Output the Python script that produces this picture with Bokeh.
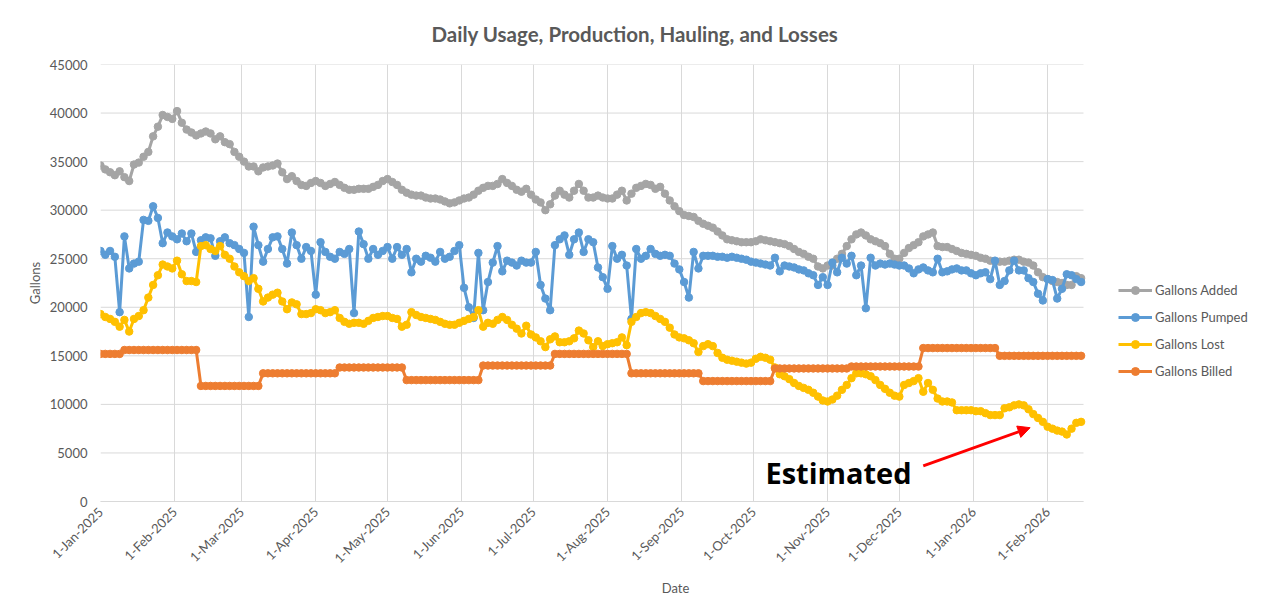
import math
import numpy as np
import pandas as pd
from bokeh.plotting import figure
from bokeh.models import (Range1d, FixedTicker, CustomJSTickFormatter, Legend,
                          LegendItem, Label, Arrow, NormalHead)
from bokeh.embed import file_html
from bokeh.resources import INLINE

# ---------------- data (one reading every 2 days) ----------------
START = "2025-01-01"
END = "2026-02-16"
STEP_DAYS = 2

added = [
    34600, 34200, 33900, 33600, 34000, 33400, 33000, 34700, 34900, 35500,
    36000, 37600, 38600, 39800, 39600, 39400, 40200, 39000, 38300, 38000,
    37700, 37900, 38100, 37900, 37300, 37600, 37000, 36800, 36000, 35500,
    35000, 34500, 34500, 34000, 34400, 34500, 34600, 34800, 33900, 33200,
    33500, 33000, 32600, 32500, 32800, 33000, 32800, 32500, 32700, 32900,
    32600, 32300, 32100, 32100, 32200, 32200, 32200, 32400, 32600, 33000,
    33200, 32900, 32600, 32100, 31800, 31600, 31500, 31500, 31300, 31200,
    31200, 31100, 30900, 30700, 30800, 31000, 31200, 31300, 31600, 32000,
    32300, 32500, 32500, 32700, 33200, 32800, 32500, 32100, 31900, 32200,
    31600, 31100, 30800, 30000, 30600, 31500, 32000, 31600, 31300, 32000,
    32700, 32000, 31300, 31300, 31500, 31300, 31200, 31200, 31600, 32000,
    31000, 31700, 32300, 32500, 32700, 32600, 32200, 32400, 31700, 31000,
    30400, 29900, 29500, 29400, 29300, 28900, 28600, 28400, 28200, 27800,
    27400, 27000, 26900, 26800, 26700, 26700, 26700, 26800, 27000, 26900,
    26800, 26700, 26600, 26500, 26300, 26000, 25700, 25500, 25200, 25000,
    24200, 24000, 24300, 24300, 25000, 25500, 26300, 27000, 27500, 27700,
    27400, 27000, 26800, 26600, 26300, 25500, 25000, 25000, 25600, 26100,
    26400, 26700, 27300, 27500, 27700, 26300, 26200, 26200, 26000, 25800,
    25600, 25500, 25400, 25300, 25100, 25000, 24800, 24700, 24700, 24700,
    24800, 24900, 24900, 24700, 24600, 24300, 23600, 23100, 22900, 22700,
    22600, 22500, 22300, 22300, 23200, 23000,
]

pumped = [
    25800, 25400, 25800, 25200, 19500, 27300, 24000, 24500, 24700, 29000,
    28900, 30400, 29200, 26600, 27700, 27300, 27000, 27600, 26800, 27600,
    25700, 26900, 27200, 27100, 25300, 26800, 27200, 26600, 26400, 26000,
    25600, 19000, 28300, 26400, 24700, 26000, 27200, 27300, 26000, 24500,
    27700, 26400, 25000, 26200, 25800, 21300, 26700, 25700, 25200, 25000,
    25700, 25500, 26000, 19400, 27800, 26500, 25000, 26000, 25400, 25800,
    26200, 25000, 26200, 25400, 26000, 23600, 25000, 24700, 25300, 25100,
    24700, 25700, 25000, 25200, 25800, 26400, 22000, 20000, 18900, 25600,
    19700, 22600, 24600, 26300, 23700, 24800, 24600, 24300, 24800, 24600,
    24600, 25700, 22300, 20900, 19700, 26400, 27000, 27400, 25400, 27000,
    27700, 25700, 27000, 26700, 24100, 23100, 21900, 26300, 25000, 25400,
    24300, 18800, 26000, 25000, 25300, 26000, 25500, 25300, 25400, 25300,
    24500, 23900, 22600, 21000, 25700, 24000, 25300, 25300, 25300, 25200,
    25200, 25100, 25200, 25100, 25000, 24900, 24700, 24600, 24500, 24400,
    24300, 25100, 23700, 24300, 24200, 24100, 23900, 23800, 23500, 23300,
    22300, 23100, 22300, 24600, 23600, 25100, 24500, 25300, 23300, 24300,
    19900, 25100, 24300, 24500, 24400, 24500, 24400, 24300, 24300, 24000,
    23500, 23900, 24100, 23800, 23600, 25000, 23600, 23700, 23900, 24000,
    23800, 23800, 23500, 23300, 23500, 23600, 22900, 24800, 22300, 22700,
    23800, 24800, 23800, 23800, 23000, 22600, 21400, 20700, 22900, 22800,
    20900, 21900, 23400, 23300, 22900, 22600,
]

lost = [
    19300, 19000, 18800, 18500, 18000, 18700, 17500, 18800, 19100, 19700,
    21000, 22300, 23300, 24400, 24200, 24000, 24800, 23400, 22700, 22700,
    22600, 26300, 26400, 26000, 25800, 26300, 25400, 25000, 24200, 23600,
    23200, 22700, 23000, 21900, 20600, 21000, 21300, 21500, 20600, 19800,
    20500, 20300, 19300, 19300, 19400, 19800, 19700, 19400, 19500, 19700,
    18900, 18500, 18300, 18400, 18400, 18300, 18600, 18900, 19000, 19100,
    19100, 18900, 18800, 18000, 18200, 19500, 19200, 19000, 18900, 18800,
    18700, 18500, 18300, 18200, 18200, 18400, 18600, 18800, 19000, 19700,
    18000, 18400, 18300, 18700, 19000, 18700, 18200, 17800, 17300, 18100,
    17200, 16900, 16500, 15900, 16700, 17000, 16400, 16400, 16500, 16800,
    17600, 17300, 16600, 15900, 16500, 16000, 16200, 16300, 16400, 16900,
    16100, 18500, 19000, 19400, 19500, 19400, 19100, 18800, 18500, 17900,
    17200, 16900, 16800, 16600, 16300, 15400, 16000, 16200, 16000, 15300,
    14800, 14600, 14500, 14400, 14300, 14200, 14300, 14700, 14900, 14800,
    14600, 13800, 13100, 12900, 12600, 12200, 11900, 11700, 11500, 11200,
    10800, 10400, 10300, 10500, 10900, 11500, 12000, 12700, 13200, 13200,
    13100, 12900, 12500, 12000, 11600, 11200, 10900, 10800, 12000, 12200,
    12400, 12700, 11300, 12200, 11500, 10600, 10300, 10300, 10200, 9400,
    9400, 9400, 9400, 9300, 9300, 9100, 8900, 8900, 8900, 9600,
    9700, 9900, 10000, 9900, 9500, 9000, 8600, 8200, 7700, 7500,
    7300, 7200, 6900, 7500, 8100, 8200,
]

billing_start = ["2025-01-01", "2025-01-10", "2025-02-11", "2025-03-10", "2025-04-10",
                 "2025-05-09", "2025-06-09", "2025-07-10", "2025-08-10", "2025-09-10",
                 "2025-10-10", "2025-11-10", "2025-12-10", "2026-01-12"]
billing_gallons = [15200, 15600, 11900, 13200, 13800, 12500, 14000, 15200, 13200, 12400,
                   13700, 13900, 15800, 15000]

series_names = ["Gallons Added", "Gallons Pumped", "Gallons Lost", "Gallons Billed"]
series_colors = ["#A5A5A5", "#5B9BD5", "#FFC000", "#ED7D31"]
month_ticks = pd.date_range("2025-01-01", "2026-02-01", freq="MS")
y_ticks = list(range(0, 45001, 5000))

# ---------------- layout constants (pixels) ----------------
FIG_W, FIG_H = 1250, 600
LEFT, TOP, BOTTOM = 100, 63, 99
DATA_W = 983                      # plotting area width in px
FRAME_W = FIG_W - LEFT            # frame extends under the legend area on the right

def ms(ts):
    return pd.Timestamp(ts).value / 1e6

x0, x1 = ms(START), ms(END)
x_end = x0 + (x1 - x0) * FRAME_W / DATA_W

dates = pd.date_range(START, periods=len(added), freq=f"{STEP_DAYS}D")
period_idx = np.searchsorted(pd.to_datetime(billing_start).values, dates.values, side="right") - 1
billed = list(np.array(billing_gallons)[period_idx])

FONT = "Lato"
TXT = "#595959"
GRID = "#D9D9D9"

p = figure(width=FIG_W, height=FIG_H, x_axis_type="datetime",
           x_range=Range1d(x0, x_end), y_range=Range1d(0, 45000),
           output_backend="svg", toolbar_location=None,
           min_border_left=LEFT, min_border_right=0, min_border_top=TOP, min_border_bottom=BOTTOM,
           background_fill_color="white", border_fill_color="white")
p.outline_line_color = None

p.title.text = "Daily Usage, Production, Hauling, and Losses"
p.title.align = "left"
p.title.offset = 331
p.title.standoff = 38
p.title.text_font = FONT
p.title.text_font_size = "20.5px"
p.title.text_font_style = "bold"
p.title.text_color = TXT

p.xaxis.ticker = FixedTicker(ticks=[ms(t) for t in month_ticks])
p.xaxis.formatter = CustomJSTickFormatter(code="""
const m = ["Jan","Feb","Mar","Apr","May","Jun","Jul","Aug","Sep","Oct","Nov","Dec"];
const d = new Date(tick);
return d.getUTCDate() + "-" + m[d.getUTCMonth()] + "-" + d.getUTCFullYear();
""")
p.xaxis.bounds = (x0, x1)
p.yaxis.ticker = FixedTicker(ticks=y_ticks)

for ax in (p.xaxis, p.yaxis):
    ax.major_tick_line_color = None
    ax.minor_tick_line_color = None
    ax.major_tick_out = 0
    ax.major_tick_in = 0
    ax.major_label_text_font = FONT
    ax.major_label_text_font_size = "13px"
    ax.major_label_text_color = TXT
    ax.axis_label_text_font = FONT
    ax.axis_label_text_font_size = "13px"
    ax.axis_label_text_font_style = "normal"
    ax.axis_label_text_color = TXT

p.xaxis.axis_line_color = GRID
p.yaxis.axis_line_color = None
p.xaxis.major_label_orientation = math.pi / 4
p.xaxis.major_label_standoff = 8
p.yaxis.major_label_standoff = 13
p.xaxis.axis_label = "Date"
p.yaxis.axis_label = "Gallons"
p.xaxis.axis_label_standoff = 5
p.yaxis.axis_label_standoff = 4

p.xgrid.grid_line_color = GRID
p.ygrid.visible = False
# horizontal gridlines limited to the plotting area
p.segment(x0=[x0] * len(y_ticks), x1=[x1] * len(y_ticks), y0=y_ticks, y1=y_ticks,
          line_color=GRID, line_width=1)

items = []
for name, col, vals in zip(series_names, series_colors, [added, pumped, lost, billed]):
    rl = p.line(dates, vals, line_color=col, line_width=3, line_join="round")
    rs = p.scatter(dates, vals, size=7.5, fill_color=col, line_color=col)
    items.append(LegendItem(label=name, renderers=[rl, rs]))

legend = Legend(items=items, location=(DATA_W + 35, 120), orientation="vertical",
                label_text_font=FONT, label_text_font_size="13px", label_text_color=TXT,
                glyph_width=34, glyph_height=20, label_height=20, spacing=7,
                padding=0, margin=0, label_standoff=3,
                border_line_color=None, background_fill_alpha=0)
p.add_layout(legend)

est = Label(x=ms("2025-10-06"), y=2950, text="Estimated",
            text_align="left", text_baseline="alphabetic",
            text_font="Open Sans", text_font_size="29px", text_font_style="bold",
            text_color="black")
p.add_layout(est)

arrow = Arrow(end=NormalHead(size=12, fill_color="red", line_color="red"),
              x_start=ms("2025-12-11"), y_start=3660,
              x_end=ms("2026-01-24 16:00"), y_end=7600,
              line_color="red", line_width=3)
p.add_layout(arrow)

open("out.html", "w").write(file_html(p, INLINE))
